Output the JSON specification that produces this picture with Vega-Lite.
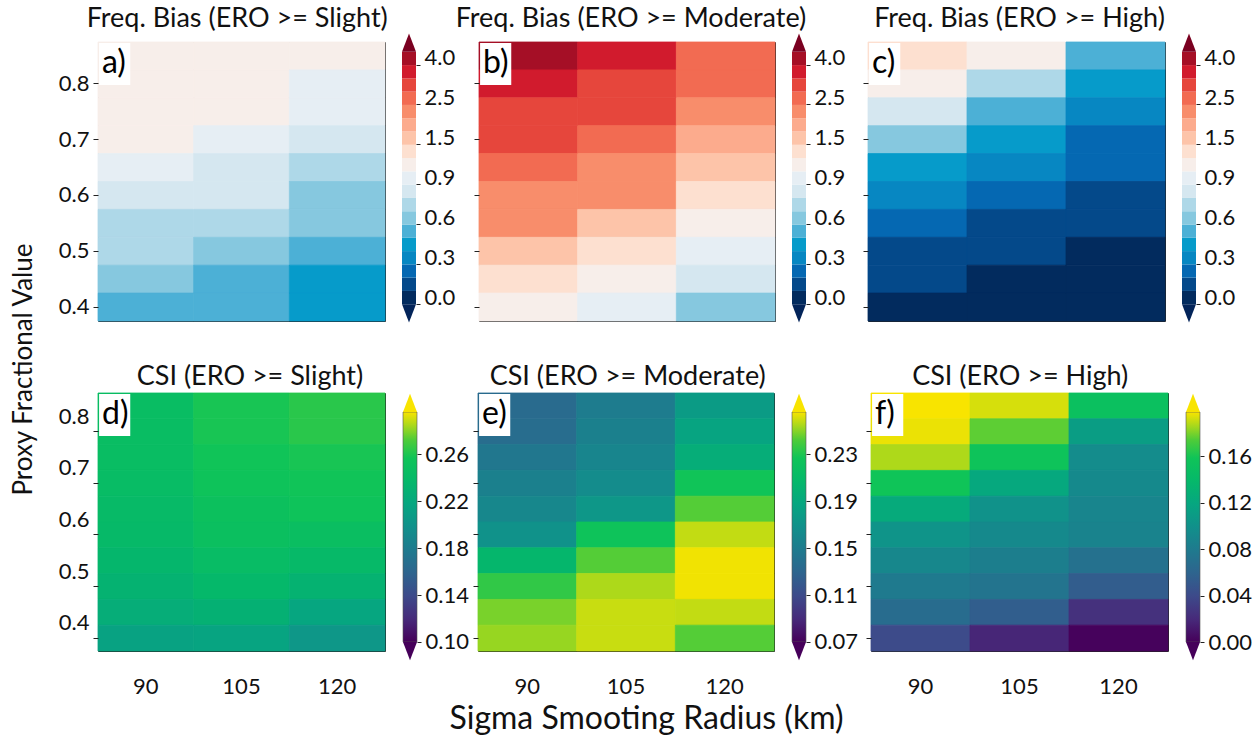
{
"$schema": "https://vega.github.io/schema/vega-lite/v6.json",
"background": "white",
"padding": {"left": 10, "top": 4, "right": 5, "bottom": 5},
"config": {
  "font": "Lato",
  "view": {"stroke": "#222222", "strokeWidth": 1},
  "axis": {"labelFont": "Lato", "labelFontSize": 22, "labelColor": "#111111", "tickColor": "#222222", "tickWidth": 1, "domain": false, "grid": false, "titleFont": "Lato", "titleFontWeight": "normal", "titleColor": "#111111"},
  "title": {"font": "Lato", "fontSize": 27, "fontWeight": "normal", "color": "#111111", "anchor": "middle"}
},
"title": {"text": "Proxy Fractional Value", "orient": "left", "anchor": "middle", "fontSize": 26, "offset": 19},
"datasets": {
"A": [
{"r":90,"p":0.85,"v":1.05},{"r":90,"p":0.8,"v":1.05},{"r":90,"p":0.75,"v":1.04},{"r":90,"p":0.7,"v":1.02},{"r":90,"p":0.65,"v":0.95},{"r":90,"p":0.6,"v":0.85},{"r":90,"p":0.55,"v":0.75},{"r":90,"p":0.5,"v":0.73},{"r":90,"p":0.45,"v":0.65},{"r":90,"p":0.4,"v":0.55},
{"r":105,"p":0.85,"v":1.03},{"r":105,"p":0.8,"v":1.02},{"r":105,"p":0.75,"v":1.01},{"r":105,"p":0.7,"v":0.94},{"r":105,"p":0.65,"v":0.86},{"r":105,"p":0.6,"v":0.84},{"r":105,"p":0.55,"v":0.75},{"r":105,"p":0.5,"v":0.65},{"r":105,"p":0.45,"v":0.55},{"r":105,"p":0.4,"v":0.52},
{"r":120,"p":0.85,"v":1.01},{"r":120,"p":0.8,"v":0.96},{"r":120,"p":0.75,"v":0.94},{"r":120,"p":0.7,"v":0.85},{"r":120,"p":0.65,"v":0.75},{"r":120,"p":0.6,"v":0.66},{"r":120,"p":0.55,"v":0.64},{"r":120,"p":0.5,"v":0.55},{"r":120,"p":0.45,"v":0.45},{"r":120,"p":0.4,"v":0.42}
],
"B": [
{"r":90,"p":0.85,"v":4.2},{"r":90,"p":0.8,"v":3.7},{"r":90,"p":0.75,"v":3.2},{"r":90,"p":0.7,"v":3.1},{"r":90,"p":0.65,"v":2.7},{"r":90,"p":0.6,"v":2.3},{"r":90,"p":0.55,"v":2.2},{"r":90,"p":0.5,"v":1.6},{"r":90,"p":0.45,"v":1.3},{"r":90,"p":0.4,"v":1.1},
{"r":105,"p":0.85,"v":3.7},{"r":105,"p":0.8,"v":3.2},{"r":105,"p":0.75,"v":3.1},{"r":105,"p":0.7,"v":2.7},{"r":105,"p":0.65,"v":2.3},{"r":105,"p":0.6,"v":2.2},{"r":105,"p":0.55,"v":1.6},{"r":105,"p":0.5,"v":1.3},{"r":105,"p":0.45,"v":1.1},{"r":105,"p":0.4,"v":0.95},
{"r":120,"p":0.85,"v":2.7},{"r":120,"p":0.8,"v":2.6},{"r":120,"p":0.75,"v":2.2},{"r":120,"p":0.7,"v":1.9},{"r":120,"p":0.65,"v":1.6},{"r":120,"p":0.6,"v":1.35},{"r":120,"p":0.55,"v":1.1},{"r":120,"p":0.5,"v":0.95},{"r":120,"p":0.45,"v":0.85},{"r":120,"p":0.4,"v":0.65}
],
"C": [
{"r":90,"p":0.85,"v":1.3},{"r":90,"p":0.8,"v":1.1},{"r":90,"p":0.75,"v":0.85},{"r":90,"p":0.7,"v":0.65},{"r":90,"p":0.65,"v":0.45},{"r":90,"p":0.6,"v":0.35},{"r":90,"p":0.55,"v":0.25},{"r":90,"p":0.5,"v":0.15},{"r":90,"p":0.45,"v":0.12},{"r":90,"p":0.4,"v":0.05},
{"r":105,"p":0.85,"v":1.05},{"r":105,"p":0.8,"v":0.75},{"r":105,"p":0.75,"v":0.55},{"r":105,"p":0.7,"v":0.45},{"r":105,"p":0.65,"v":0.35},{"r":105,"p":0.6,"v":0.25},{"r":105,"p":0.55,"v":0.15},{"r":105,"p":0.5,"v":0.12},{"r":105,"p":0.45,"v":0.06},{"r":105,"p":0.4,"v":0.04},
{"r":120,"p":0.85,"v":0.55},{"r":120,"p":0.8,"v":0.45},{"r":120,"p":0.75,"v":0.35},{"r":120,"p":0.7,"v":0.27},{"r":120,"p":0.65,"v":0.25},{"r":120,"p":0.6,"v":0.16},{"r":120,"p":0.55,"v":0.14},{"r":120,"p":0.5,"v":0.08},{"r":120,"p":0.45,"v":0.05},{"r":120,"p":0.4,"v":0.03}
],
"D": [
{"r":90,"p":0.85,"v":0.245},{"r":90,"p":0.8,"v":0.245},{"r":90,"p":0.75,"v":0.245},{"r":90,"p":0.7,"v":0.243},{"r":90,"p":0.65,"v":0.241},{"r":90,"p":0.6,"v":0.239},{"r":90,"p":0.55,"v":0.235},{"r":90,"p":0.5,"v":0.231},{"r":90,"p":0.45,"v":0.225},{"r":90,"p":0.4,"v":0.214},
{"r":105,"p":0.85,"v":0.259},{"r":105,"p":0.8,"v":0.259},{"r":105,"p":0.75,"v":0.257},{"r":105,"p":0.7,"v":0.255},{"r":105,"p":0.65,"v":0.251},{"r":105,"p":0.6,"v":0.249},{"r":105,"p":0.55,"v":0.243},{"r":105,"p":0.5,"v":0.237},{"r":105,"p":0.45,"v":0.229},{"r":105,"p":0.4,"v":0.216},
{"r":120,"p":0.85,"v":0.263},{"r":120,"p":0.8,"v":0.263},{"r":120,"p":0.75,"v":0.259},{"r":120,"p":0.7,"v":0.257},{"r":120,"p":0.65,"v":0.255},{"r":120,"p":0.6,"v":0.247},{"r":120,"p":0.55,"v":0.239},{"r":120,"p":0.5,"v":0.231},{"r":120,"p":0.45,"v":0.218},{"r":120,"p":0.4,"v":0.204}
],
"E": [
{"r":90,"p":0.85,"v":0.135},{"r":90,"p":0.8,"v":0.137},{"r":90,"p":0.75,"v":0.146},{"r":90,"p":0.7,"v":0.154},{"r":90,"p":0.65,"v":0.16},{"r":90,"p":0.6,"v":0.17},{"r":90,"p":0.55,"v":0.205},{"r":90,"p":0.5,"v":0.235},{"r":90,"p":0.45,"v":0.248},{"r":90,"p":0.4,"v":0.252},
{"r":105,"p":0.85,"v":0.15},{"r":105,"p":0.8,"v":0.154},{"r":105,"p":0.75,"v":0.158},{"r":105,"p":0.7,"v":0.164},{"r":105,"p":0.65,"v":0.174},{"r":105,"p":0.6,"v":0.225},{"r":105,"p":0.55,"v":0.243},{"r":105,"p":0.5,"v":0.255},{"r":105,"p":0.45,"v":0.259},{"r":105,"p":0.4,"v":0.259},
{"r":120,"p":0.85,"v":0.178},{"r":120,"p":0.8,"v":0.186},{"r":120,"p":0.75,"v":0.195},{"r":120,"p":0.7,"v":0.227},{"r":120,"p":0.65,"v":0.243},{"r":120,"p":0.6,"v":0.258},{"r":120,"p":0.55,"v":0.265},{"r":120,"p":0.5,"v":0.265},{"r":120,"p":0.45,"v":0.258},{"r":120,"p":0.4,"v":0.243}
],
"F": [
{"r":90,"p":0.85,"v":0.2},{"r":90,"p":0.8,"v":0.196},{"r":90,"p":0.75,"v":0.187},{"r":90,"p":0.7,"v":0.158},{"r":90,"p":0.65,"v":0.123},{"r":90,"p":0.6,"v":0.103},{"r":90,"p":0.55,"v":0.091},{"r":90,"p":0.5,"v":0.079},{"r":90,"p":0.45,"v":0.067},{"r":90,"p":0.4,"v":0.04},
{"r":105,"p":0.85,"v":0.193},{"r":105,"p":0.8,"v":0.176},{"r":105,"p":0.75,"v":0.156},{"r":105,"p":0.7,"v":0.121},{"r":105,"p":0.65,"v":0.101},{"r":105,"p":0.6,"v":0.093},{"r":105,"p":0.55,"v":0.083},{"r":105,"p":0.5,"v":0.074},{"r":105,"p":0.45,"v":0.055},{"r":105,"p":0.4,"v":0.018},
{"r":120,"p":0.85,"v":0.151},{"r":120,"p":0.8,"v":0.111},{"r":120,"p":0.75,"v":0.095},{"r":120,"p":0.7,"v":0.093},{"r":120,"p":0.65,"v":0.089},{"r":120,"p":0.6,"v":0.087},{"r":120,"p":0.55,"v":0.071},{"r":120,"p":0.5,"v":0.054},{"r":120,"p":0.45,"v":0.024},{"r":120,"p":0.4,"v":0.001}
],
"fbLevels": [{"lo":0},{"lo":0.1},{"lo":0.2},{"lo":0.3},{"lo":0.4},{"lo":0.5},{"lo":0.6},{"lo":0.7},{"lo":0.8},{"lo":0.9},{"lo":1.0},{"lo":1.2},{"lo":1.5},{"lo":1.8},{"lo":2.1},{"lo":2.5},{"lo":3.0},{"lo":3.5},{"lo":4.0}]
},
"spacing": 40,
"resolve": {"scale": {"color": "independent", "stroke": "independent"}},
"vconcat": [
{"spacing": -6, "resolve": {"scale": {"color": "independent", "stroke": "independent"}},
 "hconcat": [
 {"title": {"text": "Freq. Bias (ERO >= Slight)", "anchor": "middle", "dx": -21, "offset": 1},
  "spacing": 16, "resolve": {"scale": {"color": "independent", "stroke": "independent"}},
  "hconcat": [
   {"width": 287, "height": 279,
    "layer": [
     {"data": {"name": "A"}, "mark": {"type": "rect", "strokeWidth": 0.8},
      "encoding": {
       "x": {"field": "r", "type": "ordinal", "scale": {"type": "band", "domain": [90,105,120]}, "axis": null},
       "y": {"field": "p", "type": "ordinal", "scale": {"type": "band", "domain": [0.85,0.8,0.75,0.7,0.65,0.6,0.55,0.5,0.45,0.4]}, "axis": {"values": [0.4,0.5,0.6,0.7,0.8], "tickSize": 5, "labelPadding": 4, "title": null, "minExtent": 42, "maxExtent": 42}},
       "color": {"field": "v", "type": "quantitative", "legend": null, "scale": {"type": "threshold", "domain": [0,0.1,0.2,0.3,0.4,0.5,0.6,0.7,0.8,0.9,1.0,1.2,1.5,1.8,2.1,2.5,3.0,3.5,4.0,4.5], "range": ["#032459","#022b5e","#04498a","#0568b2","#0787c2","#069bca","#4cb0d6","#86c8df","#aed8e8","#d5e7f0","#e6eef4","#f7eeea","#fde0d0","#fdc4a9","#fcab8d","#f88d6b","#f26b52","#e6463c","#d11b2d","#a50f26","#7a0020"]}},
       "stroke": {"field": "v", "type": "quantitative", "legend": null, "scale": {"type": "threshold", "domain": [0,0.1,0.2,0.3,0.4,0.5,0.6,0.7,0.8,0.9,1.0,1.2,1.5,1.8,2.1,2.5,3.0,3.5,4.0,4.5], "range": ["#032459","#022b5e","#04498a","#0568b2","#0787c2","#069bca","#4cb0d6","#86c8df","#aed8e8","#d5e7f0","#e6eef4","#f7eeea","#fde0d0","#fdc4a9","#fcab8d","#f88d6b","#f26b52","#e6463c","#d11b2d","#a50f26","#7a0020"]}}}},
     {"data": {"values": [{}]}, "mark": {"type": "point", "shape": "M 0.05 0.05 L 1.5 0.05 L 1.5 2 L 0.05 2 Z", "size": 1849, "filled": true, "color": "white", "opacity": 1, "strokeWidth": 0},
      "encoding": {"x": {"datum": 90, "type": "ordinal", "bandPosition": 0, "axis": null}, "y": {"datum": 0.85, "type": "ordinal", "bandPosition": 0}}},
     {"data": {"values": [{}]}, "mark": {"type": "text", "text": "a)", "align": "left", "baseline": "top", "dx": 4, "dy": 6, "fontSize": 32, "color": "black"},
      "encoding": {"x": {"datum": 90, "type": "ordinal", "bandPosition": 0, "axis": null}, "y": {"datum": 0.85, "type": "ordinal", "bandPosition": 0}}}
    ]},
   {"width": 14, "height": 279, "view": {"stroke": null},
    "layer": [
     {"data": {"name": "fbLevels"}, "mark": "rect",
      "encoding": {
       "y": {"field": "lo", "type": "ordinal", "scale": {"type": "band", "domain": [4,3.5,3,2.5,2.1,1.8,1.5,1.2,1,0.9,0.8,0.7,0.6,0.5,0.4,0.3,0.2,0.1,0], "paddingInner": 0, "paddingOuter": 1.571, "align": 0.369}, "axis": {"orient": "right", "values": [0,0.3,0.6,0.9,1.5,2.5,4], "bandPosition": 1, "labelExpr": "format(datum.value, '.1f')", "tickSize": 4, "labelPadding": 4, "title": null, "minExtent": 45, "maxExtent": 45}},
       "color": {"field": "lo", "type": "quantitative", "legend": null, "scale": {"type": "threshold", "domain": [0,0.1,0.2,0.3,0.4,0.5,0.6,0.7,0.8,0.9,1.0,1.2,1.5,1.8,2.1,2.5,3.0,3.5,4.0,4.5], "range": ["#032459","#022b5e","#04498a","#0568b2","#0787c2","#069bca","#4cb0d6","#86c8df","#aed8e8","#d5e7f0","#e6eef4","#f7eeea","#fde0d0","#fdc4a9","#fcab8d","#f88d6b","#f26b52","#e6463c","#d11b2d","#a50f26","#7a0020"]}}}},
     {"data": {"values": [{}]}, "mark": {"type": "point", "shape": "M -1 0 L 0 -2.6 L 1 0 Z", "size": 196, "filled": true, "color": "#7a0020", "opacity": 1, "strokeWidth": 0},
      "encoding": {"y": {"datum": 4, "type": "ordinal", "bandPosition": 0, "scale": {"type": "band"}}}},
     {"data": {"values": [{}]}, "mark": {"type": "point", "shape": "M -1 0 L 0 2.6 L 1 0 Z", "size": 196, "filled": true, "color": "#032459", "opacity": 1, "strokeWidth": 0},
      "encoding": {"y": {"datum": 0, "type": "ordinal", "bandPosition": 1, "scale": {"type": "band"}}}}
    ]}
  ]},
 {"spacing": 11, "resolve": {"scale": {"color": "independent", "stroke": "independent"}},
  "hconcat": [
 {"title": {"text": "Freq. Bias (ERO >= Moderate)", "anchor": "middle", "dx": -31, "offset": 1},
  "spacing": 16, "resolve": {"scale": {"color": "independent", "stroke": "independent"}},
  "hconcat": [
   {"width": 296, "height": 279,
    "layer": [
     {"data": {"name": "B"}, "mark": {"type": "rect", "strokeWidth": 0.8},
      "encoding": {
       "x": {"field": "r", "type": "ordinal", "scale": {"type": "band", "domain": [90,105,120]}, "axis": null},
       "y": {"field": "p", "type": "ordinal", "scale": {"type": "band", "domain": [0.85,0.8,0.75,0.7,0.65,0.6,0.55,0.5,0.45,0.4]}, "axis": {"values": [0.4,0.5,0.6,0.7,0.8], "tickSize": 5, "labels": false, "title": null, "minExtent": 5, "maxExtent": 5}},
       "color": {"field": "v", "type": "quantitative", "legend": null, "scale": {"type": "threshold", "domain": [0,0.1,0.2,0.3,0.4,0.5,0.6,0.7,0.8,0.9,1.0,1.2,1.5,1.8,2.1,2.5,3.0,3.5,4.0,4.5], "range": ["#032459","#022b5e","#04498a","#0568b2","#0787c2","#069bca","#4cb0d6","#86c8df","#aed8e8","#d5e7f0","#e6eef4","#f7eeea","#fde0d0","#fdc4a9","#fcab8d","#f88d6b","#f26b52","#e6463c","#d11b2d","#a50f26","#7a0020"]}},
       "stroke": {"field": "v", "type": "quantitative", "legend": null, "scale": {"type": "threshold", "domain": [0,0.1,0.2,0.3,0.4,0.5,0.6,0.7,0.8,0.9,1.0,1.2,1.5,1.8,2.1,2.5,3.0,3.5,4.0,4.5], "range": ["#032459","#022b5e","#04498a","#0568b2","#0787c2","#069bca","#4cb0d6","#86c8df","#aed8e8","#d5e7f0","#e6eef4","#f7eeea","#fde0d0","#fdc4a9","#fcab8d","#f88d6b","#f26b52","#e6463c","#d11b2d","#a50f26","#7a0020"]}}}},
     {"data": {"values": [{}]}, "mark": {"type": "point", "shape": "M 0.05 0.05 L 1.5 0.05 L 1.5 2 L 0.05 2 Z", "size": 1849, "filled": true, "color": "white", "opacity": 1, "strokeWidth": 0},
      "encoding": {"x": {"datum": 90, "type": "ordinal", "bandPosition": 0, "axis": null}, "y": {"datum": 0.85, "type": "ordinal", "bandPosition": 0}}},
     {"data": {"values": [{}]}, "mark": {"type": "text", "text": "b)", "align": "left", "baseline": "top", "dx": 4, "dy": 6, "fontSize": 32, "color": "black"},
      "encoding": {"x": {"datum": 90, "type": "ordinal", "bandPosition": 0, "axis": null}, "y": {"datum": 0.85, "type": "ordinal", "bandPosition": 0}}}
    ]},
   {"width": 14, "height": 279, "view": {"stroke": null},
    "layer": [
     {"data": {"name": "fbLevels"}, "mark": "rect",
      "encoding": {
       "y": {"field": "lo", "type": "ordinal", "scale": {"type": "band", "domain": [4,3.5,3,2.5,2.1,1.8,1.5,1.2,1,0.9,0.8,0.7,0.6,0.5,0.4,0.3,0.2,0.1,0], "paddingInner": 0, "paddingOuter": 1.571, "align": 0.369}, "axis": {"orient": "right", "values": [0,0.3,0.6,0.9,1.5,2.5,4], "bandPosition": 1, "labelExpr": "format(datum.value, '.1f')", "tickSize": 4, "labelPadding": 4, "title": null, "minExtent": 45, "maxExtent": 45}},
       "color": {"field": "lo", "type": "quantitative", "legend": null, "scale": {"type": "threshold", "domain": [0,0.1,0.2,0.3,0.4,0.5,0.6,0.7,0.8,0.9,1.0,1.2,1.5,1.8,2.1,2.5,3.0,3.5,4.0,4.5], "range": ["#032459","#022b5e","#04498a","#0568b2","#0787c2","#069bca","#4cb0d6","#86c8df","#aed8e8","#d5e7f0","#e6eef4","#f7eeea","#fde0d0","#fdc4a9","#fcab8d","#f88d6b","#f26b52","#e6463c","#d11b2d","#a50f26","#7a0020"]}}}},
     {"data": {"values": [{}]}, "mark": {"type": "point", "shape": "M -1 0 L 0 -2.6 L 1 0 Z", "size": 196, "filled": true, "color": "#7a0020", "opacity": 1, "strokeWidth": 0},
      "encoding": {"y": {"datum": 4, "type": "ordinal", "bandPosition": 0, "scale": {"type": "band"}}}},
     {"data": {"values": [{}]}, "mark": {"type": "point", "shape": "M -1 0 L 0 2.6 L 1 0 Z", "size": 196, "filled": true, "color": "#032459", "opacity": 1, "strokeWidth": 0},
      "encoding": {"y": {"datum": 0, "type": "ordinal", "bandPosition": 1, "scale": {"type": "band"}}}}
    ]}
  ]},
 {"title": {"text": "Freq. Bias (ERO >= High)", "anchor": "middle", "dx": -32, "offset": 1},
  "spacing": 16, "resolve": {"scale": {"color": "independent", "stroke": "independent"}},
  "hconcat": [
   {"width": 297, "height": 279,
    "layer": [
     {"data": {"name": "C"}, "mark": {"type": "rect", "strokeWidth": 0.8},
      "encoding": {
       "x": {"field": "r", "type": "ordinal", "scale": {"type": "band", "domain": [90,105,120]}, "axis": null},
       "y": {"field": "p", "type": "ordinal", "scale": {"type": "band", "domain": [0.85,0.8,0.75,0.7,0.65,0.6,0.55,0.5,0.45,0.4]}, "axis": {"values": [0.4,0.5,0.6,0.7,0.8], "tickSize": 5, "labels": false, "title": null, "minExtent": 5, "maxExtent": 5}},
       "color": {"field": "v", "type": "quantitative", "legend": null, "scale": {"type": "threshold", "domain": [0,0.1,0.2,0.3,0.4,0.5,0.6,0.7,0.8,0.9,1.0,1.2,1.5,1.8,2.1,2.5,3.0,3.5,4.0,4.5], "range": ["#032459","#022b5e","#04498a","#0568b2","#0787c2","#069bca","#4cb0d6","#86c8df","#aed8e8","#d5e7f0","#e6eef4","#f7eeea","#fde0d0","#fdc4a9","#fcab8d","#f88d6b","#f26b52","#e6463c","#d11b2d","#a50f26","#7a0020"]}},
       "stroke": {"field": "v", "type": "quantitative", "legend": null, "scale": {"type": "threshold", "domain": [0,0.1,0.2,0.3,0.4,0.5,0.6,0.7,0.8,0.9,1.0,1.2,1.5,1.8,2.1,2.5,3.0,3.5,4.0,4.5], "range": ["#032459","#022b5e","#04498a","#0568b2","#0787c2","#069bca","#4cb0d6","#86c8df","#aed8e8","#d5e7f0","#e6eef4","#f7eeea","#fde0d0","#fdc4a9","#fcab8d","#f88d6b","#f26b52","#e6463c","#d11b2d","#a50f26","#7a0020"]}}}},
     {"data": {"values": [{}]}, "mark": {"type": "point", "shape": "M 0.05 0.05 L 1.5 0.05 L 1.5 2 L 0.05 2 Z", "size": 1849, "filled": true, "color": "white", "opacity": 1, "strokeWidth": 0},
      "encoding": {"x": {"datum": 90, "type": "ordinal", "bandPosition": 0, "axis": null}, "y": {"datum": 0.85, "type": "ordinal", "bandPosition": 0}}},
     {"data": {"values": [{}]}, "mark": {"type": "text", "text": "c)", "align": "left", "baseline": "top", "dx": 4, "dy": 6, "fontSize": 32, "color": "black"},
      "encoding": {"x": {"datum": 90, "type": "ordinal", "bandPosition": 0, "axis": null}, "y": {"datum": 0.85, "type": "ordinal", "bandPosition": 0}}}
    ]},
   {"width": 14, "height": 279, "view": {"stroke": null},
    "layer": [
     {"data": {"name": "fbLevels"}, "mark": "rect",
      "encoding": {
       "y": {"field": "lo", "type": "ordinal", "scale": {"type": "band", "domain": [4,3.5,3,2.5,2.1,1.8,1.5,1.2,1,0.9,0.8,0.7,0.6,0.5,0.4,0.3,0.2,0.1,0], "paddingInner": 0, "paddingOuter": 1.571, "align": 0.369}, "axis": {"orient": "right", "values": [0,0.3,0.6,0.9,1.5,2.5,4], "bandPosition": 1, "labelExpr": "format(datum.value, '.1f')", "tickSize": 4, "labelPadding": 4, "title": null, "minExtent": 45, "maxExtent": 45}},
       "color": {"field": "lo", "type": "quantitative", "legend": null, "scale": {"type": "threshold", "domain": [0,0.1,0.2,0.3,0.4,0.5,0.6,0.7,0.8,0.9,1.0,1.2,1.5,1.8,2.1,2.5,3.0,3.5,4.0,4.5], "range": ["#032459","#022b5e","#04498a","#0568b2","#0787c2","#069bca","#4cb0d6","#86c8df","#aed8e8","#d5e7f0","#e6eef4","#f7eeea","#fde0d0","#fdc4a9","#fcab8d","#f88d6b","#f26b52","#e6463c","#d11b2d","#a50f26","#7a0020"]}}}},
     {"data": {"values": [{}]}, "mark": {"type": "point", "shape": "M -1 0 L 0 -2.6 L 1 0 Z", "size": 196, "filled": true, "color": "#7a0020", "opacity": 1, "strokeWidth": 0},
      "encoding": {"y": {"datum": 4, "type": "ordinal", "bandPosition": 0, "scale": {"type": "band"}}}},
     {"data": {"values": [{}]}, "mark": {"type": "point", "shape": "M -1 0 L 0 2.6 L 1 0 Z", "size": 196, "filled": true, "color": "#032459", "opacity": 1, "strokeWidth": 0},
      "encoding": {"y": {"datum": 0, "type": "ordinal", "bandPosition": 1, "scale": {"type": "band"}}}}
    ]}
  ]}
 ]}
 ]},
{"spacing": 3, "resolve": {"scale": {"color": "independent", "stroke": "independent"}},
 "title": {"text": "Sigma Smooting Radius (km)", "orient": "bottom", "anchor": "middle", "fontSize": 32, "offset": 6, "dx": -7},
 "hconcat": [
 {"title": {"text": "CSI (ERO >= Slight)", "anchor": "middle", "dx": -12, "offset": 1},
  "spacing": 16, "resolve": {"scale": {"color": "independent", "stroke": "independent"}},
  "hconcat": [
   {"width": 287, "height": 258,
    "layer": [
     {"data": {"name": "D"}, "mark": {"type": "rect", "strokeWidth": 0.8},
      "encoding": {
       "x": {"field": "r", "type": "ordinal", "scale": {"type": "band", "domain": [90,105,120]}, "axis": {"ticks": false, "labelPadding": 25, "labelAngle": 0, "title": null}},
       "y": {"field": "p", "type": "ordinal", "scale": {"type": "band", "domain": [0.85,0.8,0.75,0.7,0.65,0.6,0.55,0.5,0.45,0.4]}, "axis": {"values": [0.4,0.5,0.6,0.7,0.8], "tickSize": 5, "labelPadding": 4, "labelOffset": -15, "title": null, "minExtent": 42, "maxExtent": 42}},
       "color": {"field": "v", "type": "quantitative", "legend": null, "scale": {"domain": [0.1,0.1196,0.1392,0.1588,0.1784,0.198,0.2176,0.2372,0.2568,0.27248,0.28424,0.296], "range": ["#46005a","#472a7a","#3d4a8a","#2e648e","#1f7a8e","#11908b","#06a680","#05b86a","#0fc458","#50cc38","#a8d81c","#f8e400"], "clamp": true, "interpolate": "rgb"}},
       "stroke": {"field": "v", "type": "quantitative", "legend": null, "scale": {"domain": [0.1,0.1196,0.1392,0.1588,0.1784,0.198,0.2176,0.2372,0.2568,0.27248,0.28424,0.296], "range": ["#46005a","#472a7a","#3d4a8a","#2e648e","#1f7a8e","#11908b","#06a680","#05b86a","#0fc458","#50cc38","#a8d81c","#f8e400"], "clamp": true, "interpolate": "rgb"}}}},
     {"data": {"values": [{}]}, "mark": {"type": "point", "shape": "M 0.05 0.05 L 1.5 0.05 L 1.5 2 L 0.05 2 Z", "size": 1849, "filled": true, "color": "white", "opacity": 1, "strokeWidth": 0},
      "encoding": {"x": {"datum": 90, "type": "ordinal", "bandPosition": 0}, "y": {"datum": 0.85, "type": "ordinal", "bandPosition": 0}}},
     {"data": {"values": [{}]}, "mark": {"type": "text", "text": "d)", "align": "left", "baseline": "top", "dx": 4, "dy": 6, "fontSize": 32, "color": "black"},
      "encoding": {"x": {"datum": 90, "type": "ordinal", "bandPosition": 0}, "y": {"datum": 0.85, "type": "ordinal", "bandPosition": 0}}}
    ]},
   {"width": 14, "height": 258, "view": {"stroke": null}, "data": {"values": [{}]},
    "layer": [
     {"mark": {"type": "rect", "stroke": "#555555", "strokeWidth": 0.6, "color": {"gradient": "linear", "x1": 0, "y1": 1, "x2": 0, "y2": 0, "stops": [{"offset": 0, "color": "#46005a"},{"offset": 0.1, "color": "#472a7a"},{"offset": 0.2, "color": "#3d4a8a"},{"offset": 0.3, "color": "#2e648e"},{"offset": 0.4, "color": "#1f7a8e"},{"offset": 0.5, "color": "#11908b"},{"offset": 0.6, "color": "#06a680"},{"offset": 0.7, "color": "#05b86a"},{"offset": 0.8, "color": "#0fc458"},{"offset": 0.88, "color": "#50cc38"},{"offset": 0.94, "color": "#a8d81c"},{"offset": 1, "color": "#f8e400"}]}},
      "encoding": {"y": {"datum": 0.1, "type": "quantitative", "scale": {"domain": [0.0923, 0.3122], "nice": false, "zero": false}, "axis": {"orient": "right", "values": [0.1,0.12,0.14,0.16,0.18,0.2,0.22,0.24,0.26,0.28], "labelExpr": "round(datum.value * 100) % 4 == 2 ? format(datum.value, '.2f') : ''", "tickSize": 4, "labelPadding": 4, "labelFlush": false, "labelOverlap": false, "title": null, "minExtent": 45, "maxExtent": 45}}, "y2": {"datum": 0.296}}},
     {"mark": {"type": "point", "shape": "M -1 0 L 0 -2.6 L 1 0 Z", "size": 196, "filled": true, "color": "#f8e400", "opacity": 1, "strokeWidth": 0},
      "encoding": {"y": {"datum": 0.296, "type": "quantitative"}}},
     {"mark": {"type": "point", "shape": "M -1 0 L 0 2.6 L 1 0 Z", "size": 196, "filled": true, "color": "#46005a", "opacity": 1, "strokeWidth": 0},
      "encoding": {"y": {"datum": 0.1, "type": "quantitative"}}}
    ]}
  ]},
 {"spacing": 7, "resolve": {"scale": {"color": "independent", "stroke": "independent"}},
  "hconcat": [
 {"title": {"text": "CSI (ERO >= Moderate)", "anchor": "middle", "dx": -37, "offset": 1},
  "spacing": 16, "resolve": {"scale": {"color": "independent", "stroke": "independent"}},
  "hconcat": [
   {"width": 296, "height": 258,
    "layer": [
     {"data": {"name": "E"}, "mark": {"type": "rect", "strokeWidth": 0.8},
      "encoding": {
       "x": {"field": "r", "type": "ordinal", "scale": {"type": "band", "domain": [90,105,120]}, "axis": {"ticks": false, "labelPadding": 25, "labelAngle": 0, "title": null}},
       "y": {"field": "p", "type": "ordinal", "scale": {"type": "band", "domain": [0.85,0.8,0.75,0.7,0.65,0.6,0.55,0.5,0.45,0.4]}, "axis": {"values": [0.4,0.5,0.6,0.7,0.8], "tickSize": 5, "labels": false, "title": null, "minExtent": 5, "maxExtent": 5}},
       "color": {"field": "v", "type": "quantitative", "legend": null, "scale": {"domain": [0.07,0.0896,0.1092,0.1288,0.1484,0.168,0.1876,0.2072,0.2268,0.24248,0.25424,0.266], "range": ["#46005a","#472a7a","#3d4a8a","#2e648e","#1f7a8e","#11908b","#06a680","#05b86a","#0fc458","#50cc38","#a8d81c","#f8e400"], "clamp": true, "interpolate": "rgb"}},
       "stroke": {"field": "v", "type": "quantitative", "legend": null, "scale": {"domain": [0.07,0.0896,0.1092,0.1288,0.1484,0.168,0.1876,0.2072,0.2268,0.24248,0.25424,0.266], "range": ["#46005a","#472a7a","#3d4a8a","#2e648e","#1f7a8e","#11908b","#06a680","#05b86a","#0fc458","#50cc38","#a8d81c","#f8e400"], "clamp": true, "interpolate": "rgb"}}}},
     {"data": {"values": [{}]}, "mark": {"type": "point", "shape": "M 0.05 0.05 L 1.5 0.05 L 1.5 2 L 0.05 2 Z", "size": 1849, "filled": true, "color": "white", "opacity": 1, "strokeWidth": 0},
      "encoding": {"x": {"datum": 90, "type": "ordinal", "bandPosition": 0}, "y": {"datum": 0.85, "type": "ordinal", "bandPosition": 0}}},
     {"data": {"values": [{}]}, "mark": {"type": "text", "text": "e)", "align": "left", "baseline": "top", "dx": 4, "dy": 6, "fontSize": 32, "color": "black"},
      "encoding": {"x": {"datum": 90, "type": "ordinal", "bandPosition": 0}, "y": {"datum": 0.85, "type": "ordinal", "bandPosition": 0}}}
    ]},
   {"width": 14, "height": 258, "view": {"stroke": null}, "data": {"values": [{}]},
    "layer": [
     {"mark": {"type": "rect", "stroke": "#555555", "strokeWidth": 0.6, "color": {"gradient": "linear", "x1": 0, "y1": 1, "x2": 0, "y2": 0, "stops": [{"offset": 0, "color": "#46005a"},{"offset": 0.1, "color": "#472a7a"},{"offset": 0.2, "color": "#3d4a8a"},{"offset": 0.3, "color": "#2e648e"},{"offset": 0.4, "color": "#1f7a8e"},{"offset": 0.5, "color": "#11908b"},{"offset": 0.6, "color": "#06a680"},{"offset": 0.7, "color": "#05b86a"},{"offset": 0.8, "color": "#0fc458"},{"offset": 0.88, "color": "#50cc38"},{"offset": 0.94, "color": "#a8d81c"},{"offset": 1, "color": "#f8e400"}]}},
      "encoding": {"y": {"datum": 0.07, "type": "quantitative", "scale": {"domain": [0.0623, 0.2822], "nice": false, "zero": false}, "axis": {"orient": "right", "values": [0.07,0.09,0.11,0.13,0.15,0.17,0.19,0.21,0.23,0.25], "labelExpr": "round(datum.value * 100) % 4 == 3 ? format(datum.value, '.2f') : ''", "tickSize": 4, "labelPadding": 4, "labelFlush": false, "labelOverlap": false, "title": null, "minExtent": 45, "maxExtent": 45}}, "y2": {"datum": 0.266}}},
     {"mark": {"type": "point", "shape": "M -1 0 L 0 -2.6 L 1 0 Z", "size": 196, "filled": true, "color": "#f8e400", "opacity": 1, "strokeWidth": 0},
      "encoding": {"y": {"datum": 0.266, "type": "quantitative"}}},
     {"mark": {"type": "point", "shape": "M -1 0 L 0 2.6 L 1 0 Z", "size": 196, "filled": true, "color": "#46005a", "opacity": 1, "strokeWidth": 0},
      "encoding": {"y": {"datum": 0.07, "type": "quantitative"}}}
    ]}
  ]},
 {"title": {"text": "CSI (ERO >= High)", "anchor": "middle", "dx": -38, "offset": 1},
  "spacing": 16, "resolve": {"scale": {"color": "independent", "stroke": "independent"}},
  "hconcat": [
   {"width": 297, "height": 258,
    "layer": [
     {"data": {"name": "F"}, "mark": {"type": "rect", "strokeWidth": 0.8},
      "encoding": {
       "x": {"field": "r", "type": "ordinal", "scale": {"type": "band", "domain": [90,105,120]}, "axis": {"ticks": false, "labelPadding": 25, "labelAngle": 0, "title": null}},
       "y": {"field": "p", "type": "ordinal", "scale": {"type": "band", "domain": [0.85,0.8,0.75,0.7,0.65,0.6,0.55,0.5,0.45,0.4]}, "axis": {"values": [0.4,0.5,0.6,0.7,0.8], "tickSize": 5, "labels": false, "title": null, "minExtent": 5, "maxExtent": 5}},
       "color": {"field": "v", "type": "quantitative", "legend": null, "scale": {"domain": [0,0.0198,0.0396,0.0594,0.0792,0.099,0.1188,0.1386,0.1584,0.17424,0.18612,0.198], "range": ["#46005a","#472a7a","#3d4a8a","#2e648e","#1f7a8e","#11908b","#06a680","#05b86a","#0fc458","#50cc38","#a8d81c","#f8e400"], "clamp": true, "interpolate": "rgb"}},
       "stroke": {"field": "v", "type": "quantitative", "legend": null, "scale": {"domain": [0,0.0198,0.0396,0.0594,0.0792,0.099,0.1188,0.1386,0.1584,0.17424,0.18612,0.198], "range": ["#46005a","#472a7a","#3d4a8a","#2e648e","#1f7a8e","#11908b","#06a680","#05b86a","#0fc458","#50cc38","#a8d81c","#f8e400"], "clamp": true, "interpolate": "rgb"}}}},
     {"data": {"values": [{}]}, "mark": {"type": "point", "shape": "M 0.05 0.05 L 1.5 0.05 L 1.5 2 L 0.05 2 Z", "size": 1849, "filled": true, "color": "white", "opacity": 1, "strokeWidth": 0},
      "encoding": {"x": {"datum": 90, "type": "ordinal", "bandPosition": 0}, "y": {"datum": 0.85, "type": "ordinal", "bandPosition": 0}}},
     {"data": {"values": [{}]}, "mark": {"type": "text", "text": "f)", "align": "left", "baseline": "top", "dx": 4, "dy": 6, "fontSize": 32, "color": "black"},
      "encoding": {"x": {"datum": 90, "type": "ordinal", "bandPosition": 0}, "y": {"datum": 0.85, "type": "ordinal", "bandPosition": 0}}}
    ]},
   {"width": 14, "height": 258, "view": {"stroke": null}, "data": {"values": [{}]},
    "layer": [
     {"mark": {"type": "rect", "stroke": "#555555", "strokeWidth": 0.6, "color": {"gradient": "linear", "x1": 0, "y1": 1, "x2": 0, "y2": 0, "stops": [{"offset": 0, "color": "#46005a"},{"offset": 0.1, "color": "#472a7a"},{"offset": 0.2, "color": "#3d4a8a"},{"offset": 0.3, "color": "#2e648e"},{"offset": 0.4, "color": "#1f7a8e"},{"offset": 0.5, "color": "#11908b"},{"offset": 0.6, "color": "#06a680"},{"offset": 0.7, "color": "#05b86a"},{"offset": 0.8, "color": "#0fc458"},{"offset": 0.88, "color": "#50cc38"},{"offset": 0.94, "color": "#a8d81c"},{"offset": 1, "color": "#f8e400"}]}},
      "encoding": {"y": {"datum": 0, "type": "quantitative", "scale": {"domain": [-0.0077, 0.2144], "nice": false, "zero": false}, "axis": {"orient": "right", "values": [0,0.02,0.04,0.06,0.08,0.1,0.12,0.14,0.16,0.18], "labelExpr": "round(datum.value * 100) % 4 == 0 ? format(datum.value, '.2f') : ''", "tickSize": 4, "labelPadding": 4, "labelFlush": false, "labelOverlap": false, "title": null, "minExtent": 45, "maxExtent": 45}}, "y2": {"datum": 0.198}}},
     {"mark": {"type": "point", "shape": "M -1 0 L 0 -2.6 L 1 0 Z", "size": 196, "filled": true, "color": "#f8e400", "opacity": 1, "strokeWidth": 0},
      "encoding": {"y": {"datum": 0.198, "type": "quantitative"}}},
     {"mark": {"type": "point", "shape": "M -1 0 L 0 2.6 L 1 0 Z", "size": 196, "filled": true, "color": "#46005a", "opacity": 1, "strokeWidth": 0},
      "encoding": {"y": {"datum": 0, "type": "quantitative"}}}
    ]}
  ]}
 ]}
 ]}
]
}
